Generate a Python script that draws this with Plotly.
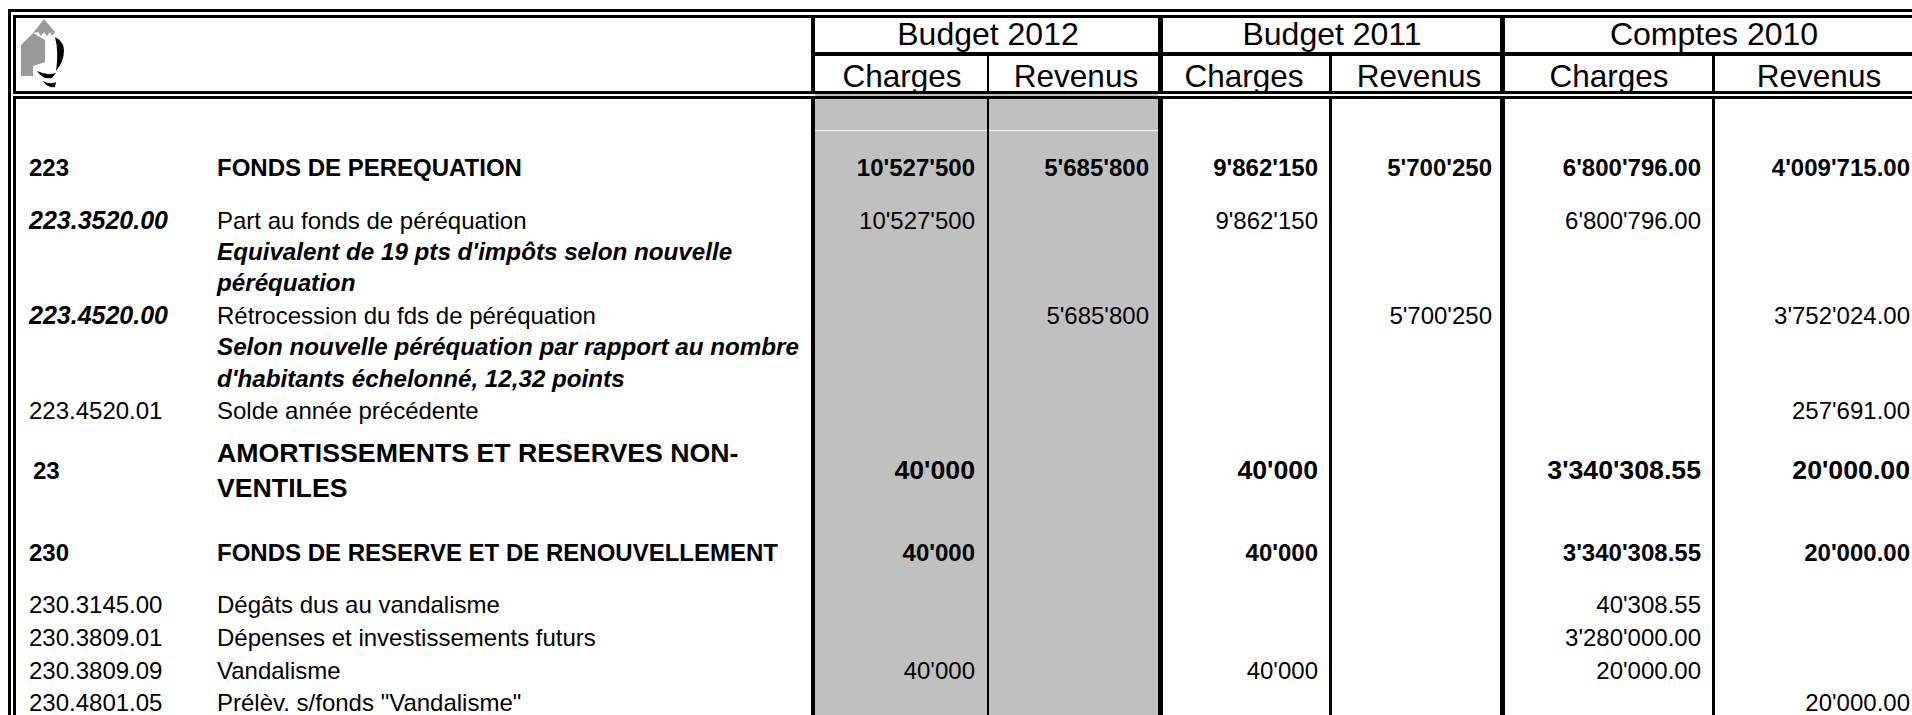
import plotly.graph_objects as go

# ---------- data ----------
group_headers = ["Budget 2012", "Budget 2011", "Comptes 2010"]
sub_headers = ["Charges", "Revenus", "Charges", "Revenus", "Charges", "Revenus"]

codes = ["223", "223.3520.00", "223.4520.00", "223.4520.01", "23", "230",
         "230.3145.00", "230.3809.01", "230.3809.09", "230.4801.05"]
labels = ["FONDS DE PEREQUATION", "Part au fonds de péréquation",
          "Rétrocession du fds de péréquation", "Solde année précédente",
          "AMORTISSEMENTS ET RESERVES NON-|VENTILES",
          "FONDS DE RESERVE ET DE RENOUVELLEMENT",
          "Dégâts dus au vandalisme", "Dépenses et investissements futurs",
          "Vandalisme", 'Prélèv. s/fonds "Vandalisme"']
notes = ["Equivalent de 19 pts d'impôts selon nouvelle", "péréquation",
         "Selon nouvelle péréquation par rapport au nombre",
         "d'habitants échelonné, 12,32 points"]

budget12_charges = ["10'527'500", "10'527'500", None, None, "40'000", "40'000", None, None, "40'000", None]
budget12_revenus = ["5'685'800", None, "5'685'800", None, None, None, None, None, None, None]
budget11_charges = ["9'862'150", "9'862'150", None, None, "40'000", "40'000", None, None, "40'000", None]
budget11_revenus = ["5'700'250", None, "5'700'250", None, None, None, None, None, None, None]
comptes10_charges = ["6'800'796.00", "6'800'796.00", None, None, "3'340'308.55", "3'340'308.55",
                     "40'308.55", "3'280'000.00", "20'000.00", None]
comptes10_revenus = ["4'009'715.00", None, "3'752'024.00", "257'691.00", "20'000.00", "20'000.00",
                     None, None, None, "20'000.00"]
value_columns = [budget12_charges, budget12_revenus, budget11_charges,
                 budget11_revenus, comptes10_charges, comptes10_revenus]

# ---------- layout ----------
W, H = 1912, 715
FONT = "Liberation Sans"
ROW_Y = [169.5, 222.5, 317.5, 412.5, 472.5, 554.5, 607, 639.5, 672.5, 705]
NOTE_Y = [253.5, 284.5, 348.5, 380.5]
TWO_LINE_Y = [455.5, 490.5]
COL_RIGHT = [975, 1149, 1318, 1492, 1701, 1910]
SUB_CENTER = [902, 1076, 1244, 1419, 1609, 1819]
GROUP_CENTER = [988, 1332, 1714]
HEADER_Y, SUB_Y = 36.5, 79.5
CODE_X, CODE_X_BIG, LABEL_X = 29, 33, 217
BOLD_ROWS = {0, 4, 5}
ITALIC_CODE_ROWS = {1, 2}
BIG_ROW = 4
BASE = 24
BIG = 26.7
NOTE_SIZE = 24.2
ITALIC_CODE_SIZE = 25

fig = go.Figure()


def add_text(xs, ys, texts, pos, size, weight="normal", style="normal"):
    fig.add_trace(go.Scatter(
        x=xs, y=ys, text=texts, mode="text", textposition=pos, hoverinfo="skip",
        showlegend=False, cliponaxis=False,
        textfont=dict(family=FONT, size=size, color="#000000", weight=weight, style=style)))


# header
add_text(GROUP_CENTER, [HEADER_Y] * 3, group_headers, "middle center", 32)
add_text(SUB_CENTER, [SUB_Y] * 6, sub_headers, "middle center", 31.5)

# codes and labels
for i, code in enumerate(codes):
    bold = i in BOLD_ROWS or i in ITALIC_CODE_ROWS
    x = CODE_X_BIG if i == BIG_ROW else CODE_X
    add_text([x], [ROW_Y[i]], [code], "middle right",
             ITALIC_CODE_SIZE if i in ITALIC_CODE_ROWS else BASE,
             "bold" if bold else "normal",
             "italic" if i in ITALIC_CODE_ROWS else "normal")
    if "|" in labels[i]:
        add_text([LABEL_X] * 2, TWO_LINE_Y, labels[i].split("|"), "middle right", BIG, "bold")
    else:
        add_text([LABEL_X], [ROW_Y[i]], [labels[i]], "middle right", BASE,
                 "bold" if i in BOLD_ROWS else "normal")
add_text([LABEL_X] * 4, NOTE_Y, notes, "middle right", NOTE_SIZE, "bold", "italic")

# values
for c, col in enumerate(value_columns):
    for i, val in enumerate(col):
        if val is None:
            continue
        size = BIG if i == BIG_ROW else BASE
        add_text([COL_RIGHT[c]], [ROW_Y[i]], [val], "middle left", size,
                 "bold" if i in BOLD_ROWS else "normal")

# ---------- rules ----------
shapes = []


def rect(x0, y0, x1, y1, color="#000000"):
    shapes.append(dict(type="rect", x0=x0, y0=y0, x1=x1, y1=y1, fillcolor=color,
                       line=dict(width=0), layer="below"))


rect(815, 94, 1158, H, "#C0C0C0")
rect(815, 130, 1158, 131, "#FFFFFF")
# horizontals
rect(8, 9, W, 12)
rect(13, 15, W, 18)
rect(13, 91, W, 94)
rect(13, 96, W, 99)
rect(811, 52, W, 56)
# left frame
rect(8, 9, 11, H)
rect(13, 15, 16, 94)
rect(13, 96, 16, H)
# verticals: header / body
for x0, x1 in [(811, 815), (1158, 1163), (1500, 1505)]:
    rect(x0, 15, x1, 94)
    rect(x0, 96, x1, H)
for x0, x1 in [(987, 989), (1329, 1332), (1712, 1715)]:
    rect(x0, 56, x1, 94)
    rect(x0, 96, x1, H)

# logo
GREY = "#9A9A9A"
for path, color in [
    ("M44,19 L55,32 L52,36 L50,32 L47,36 L44,32 L41,36 L38,32 L33,33 Z", GREY),
    ("M21,45 L33,33 L45,40 L45,62 L33,66 L33,76 L21,76 Z", GREY),
    ("M55,37 Q64,42 64,50 Q64,62 56,71 Q59,52 55,37 Z", "#000000"),
    ("M37,71 Q48,76 56,73 L52,78 Q43,80 37,71 Z", "#000000"),
    ("M43,81 Q50,85 56,82 L55,87 Q47,88 43,81 Z", "#000000"),
]:
    shapes.append(dict(type="path", path=path, fillcolor=color, line=dict(width=0), layer="below"))

fig.update_layout(
    width=W, height=H, margin=dict(l=0, r=0, t=0, b=0), autosize=False,
    paper_bgcolor="#FFFFFF", plot_bgcolor="#FFFFFF", shapes=shapes, showlegend=False,
    xaxis=dict(range=[0, W], visible=False, fixedrange=True),
    yaxis=dict(range=[H, 0], visible=False, fixedrange=True),
)
fig.write_html("out.html", config=dict(displayModeBar=False),
               default_width=W, default_height=H,
               post_script="document.body.style.margin='0';document.body.style.overflow='hidden';")
